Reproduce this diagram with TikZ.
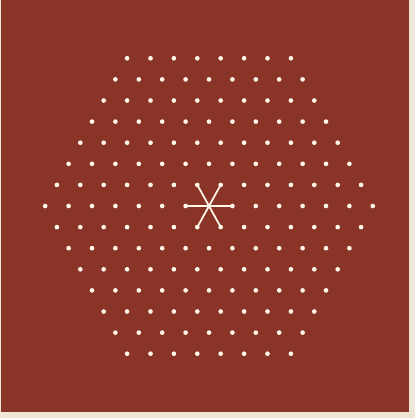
\documentclass[tikz,border=0pt]{standalone}
\usepackage{xcolor}
\usepackage{tikz}
\definecolor{BrickRed}{HTML}{8A3428}
\definecolor{Paper}{HTML}{EFE6D8}
\definecolor{DotWhite}{HTML}{FFF8EA}

\begin{document}
\begin{tikzpicture}[x=0.03cm, y=-0.03cm,
        dot/.style={circle, fill=DotWhite, inner sep=0pt, minimum size=0.14cm},
        spoke/.style={draw=DotWhite, line width=1.5pt, line cap=round}]
  \useasboundingbox (0,0) rectangle (415,418);
  \fill[Paper] (0,0) rectangle (415,418);
  \fill[BrickRed] (1,0) rectangle (409,412);
  % hexagonal patch of lattice points, 8 on each edge
  \foreach \i in {0,...,14}{
    \foreach \j in {0,...,14}{
      \pgfmathtruncatemacro{\s}{abs(\i+\j-14)}
      \ifnum\s<8
        \node[dot] (p\i-\j) at ({209+(\i-7+(\j-7)/2)*23.4}, {206+(\j-7)*21.1}) {};
      \fi
    }
  }
  % six nearest neighbours of the centre point
  \foreach \n in {8-7, 6-7, 7-6, 8-6, 7-8, 6-8}
    \draw[spoke] (p7-7.center) -- (p\n.center);
\end{tikzpicture}
\end{document}
